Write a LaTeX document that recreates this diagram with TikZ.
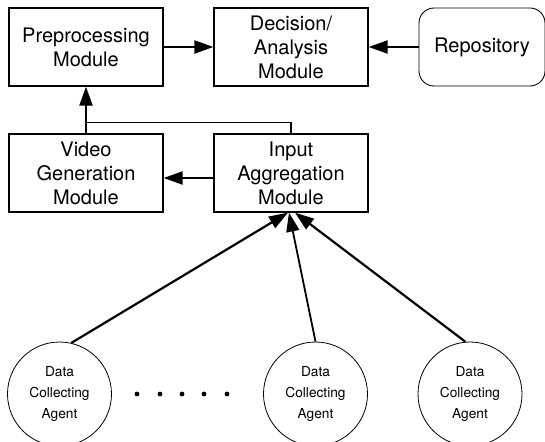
\documentclass[tikz,border=0pt]{standalone}
\usepackage{fontspec}
\setmainfont{TeX Gyre Heros}
\usepackage{tikz}
\usetikzlibrary{arrows.meta}
\tikzstyle{module} = [rectangle, draw=black, line width=1.3pt, minimum width=154pt, minimum height=78pt, align=center, font=\fontsize{20}{24}\selectfont]
\tikzstyle{store} = [rectangle, rounded corners=15pt, draw=black, line width=0.9pt, minimum width=126pt, minimum height=78pt, align=center, font=\fontsize{20}{24}\selectfont]
\tikzstyle{agent} = [circle, draw=black, line width=0.8pt, minimum size=104pt, inner sep=0pt, align=center, font=\fontsize{13.7}{21}\selectfont]
\tikzstyle{arrow} = [line width=2.2pt, -{Triangle[length=19pt,width=13pt]}]
\tikzstyle{link} = [line width=1.6pt]

\begin{document}
\begin{tikzpicture}[x=1pt, y=-1pt, node distance=205pt]
\useasboundingbox (0,0) rectangle (545,441);

\node (prep) [module] at (86,47) {Preprocessing\\Module};
\node (decision) [module, right of=prep] {Decision/\\Analysis\\Module};
\node (repo) [store, right of=decision, xshift=-14pt] {Repository};
\node (video) [module, below of=prep, node distance=126pt] {Video\\Generation\\Module};
\node (input) [module, right of=video] {Input\\Aggregation\\Module};

\node (agent1) [agent] at (59.5,394) {Data\\Collecting\\Agent};
\node (agent2) [agent] at (315.5,394) {Data\\Collecting\\Agent};
\node (agent3) [agent] at (470,394) {Data\\Collecting\\Agent};
% more agents in between
\foreach \x in {137,160,182,204,227}
  \fill (\x,394) circle (2.4pt);

\coordinate (join) at ([yshift=11pt]video.north);

\draw [arrow] (prep) -- (decision);
\draw [arrow] (repo) -- (decision);
\draw [arrow] ([yshift=-5pt]input.west) -- ([yshift=-5pt]video.east);
\draw [link] (input.north) |- (join);
\draw [link] (video.north) -- (join);
\draw [arrow] (join) -- (prep.south);

\draw [arrow] (agent1.77) -- ([xshift=-3pt]input.south);
\draw [arrow, line width=1.8pt] (agent2.north) -- ([xshift=-2pt]input.south);
\draw [arrow] (agent3.95) -- ([xshift=4pt]input.south);

\end{tikzpicture}
\end{document}
